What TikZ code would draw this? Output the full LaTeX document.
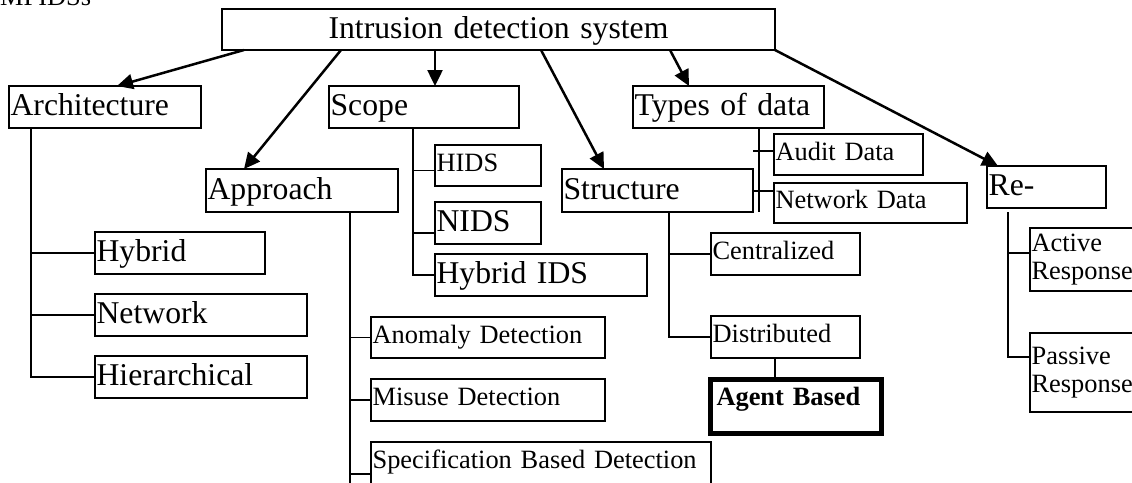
\documentclass[tikz,border=0pt]{standalone}
\usepackage{fontspec}
\setmainfont{Liberation Serif}
\usetikzlibrary{arrows.meta}
\newcommand\Lf{\fontsize{31.7}{35}\selectfont}
\newcommand\Sf{\fontsize{26.4}{28}\selectfont}
\tikzset{
  bx/.style={draw, line width=1.6pt, inner xsep=1.6pt, inner ysep=0pt, outer sep=0pt, anchor=north west, align=left},
  big/.style={font=\Lf, text height=24.4pt, text depth=7.3pt},
  sml/.style={font=\Sf, text height=18.7pt, text depth=7.7pt},
  smltwo/.style={font=\Sf},
  tl/.style={line width=1.6pt},
  arr/.style={line width=2.5pt, -{Triangle[length=16pt,width=15pt]}},
}
\newcommand\bnode[7]{%
  \pgfmathsetmacro\bw{#4-#2}\pgfmathsetmacro\bh{#5-#3}\pgfmathsetmacro\tw{#4-#2-3.2}%
  \node[bx,#6,minimum width=\bw pt,minimum height=\bh pt,text width=\tw pt] (#1) at (#2,#3) {#7};}
\begin{document}
\begin{tikzpicture}[x=1pt,y=-1pt]
\useasboundingbox (0,0) rectangle (1132,482);
\node[font=\Sf, anchor=base west, inner sep=0pt] (cap) at (0,5) {MPIDSs};
% boxes
\bnode{ids}{222}{9}{775}{50}{big,align=center}{Intrusion detection system}
\bnode{arch}{9}{86}{201}{128}{big}{Architecture}
\bnode{scope}{329}{86}{519}{128}{big}{Scope}
\bnode{types}{633}{86}{824}{128}{big}{Types of data}
\bnode{app}{206}{169}{398}{212}{big}{Approach}
\bnode{struct}{562}{169}{753}{212}{big}{Structure}
\bnode{re}{987}{166}{1106}{208}{big}{Re-}
\bnode{hyb}{95}{232}{265}{274}{big}{Hybrid}
\bnode{netw}{95}{294}{307}{336}{big}{Network}
\bnode{hier}{95}{356}{307}{398}{big}{Hierarchical}
\bnode{hids}{435}{145}{541}{186}{sml}{HIDS}
\bnode{nids}{435}{202}{541}{244}{big}{NIDS}
\bnode{hids2}{435}{254}{647}{296}{big}{Hybrid IDS}
\bnode{audit}{774}{134}{923}{175}{sml}{Audit Data}
\bnode{netd}{774}{183}{967}{223}{sml}{Network Data}
\bnode{cent}{711}{233}{860}{275}{sml}{Centralized}
\bnode{dist}{711}{316}{860}{358}{sml}{Distributed}
\bnode{anom}{371}{317}{605}{358}{sml}{Anomaly Detection}
\bnode{mis}{371}{379}{605}{421}{sml}{Misuse Detection}
\bnode{spec}{371}{442}{711}{484}{sml}{Specification Based Detection}
\bnode{act}{1030}{228}{1150}{291}{smltwo}{Active\\Response}
\bnode{pas}{1030}{333}{1150}{412}{smltwo}{Passive\\Response}
\node[draw, line width=5pt, inner xsep=6pt, inner ysep=0pt, outer sep=0pt, anchor=north west,
      minimum width=171pt, minimum height=54pt, text width=159pt, align=left,
      font=\Sf\bfseries, text height=12pt, text depth=14pt] (agent) at (710.5,379.5) {Agent Based};
% arrows from the root
\draw[arr] ([xshift=22pt]ids.south west) -- ([xshift=108pt]arch.north west);
\draw[arr] ([xshift=119pt]ids.south west) -- ([xshift=38pt]app.north west);
\draw[arr] ([xshift=213pt]ids.south west) -- ([xshift=106pt]scope.north west);
\draw[arr] ([xshift=319pt]ids.south west) -- ([xshift=42pt]struct.north west);
\draw[arr] ([xshift=448pt]ids.south west) -- ([xshift=56pt]types.north west);
\draw[arr] (ids.south east) -- ([xshift=11pt]re.north west);
% architecture
\path (arch.south west) ++(22,0) coordinate (ax);
\draw[tl] (ax) |- (hier.west);
\draw[tl] (ax |- hyb.west) -- (hyb.west);
\draw[tl] (ax |- netw.west) -- (netw.west);
% approach
\path (app.south west) ++(144,0) coordinate (px);
\path (px) ++(0,280) coordinate (pend);
\draw[tl] (px) -- (pend);
\draw[tl] (px |- anom.west) -- (anom.west);
\draw[tl] (px |- mis.west) -- (mis.west);
\path (spec.north west) ++(0,32) coordinate (specb);
\draw[tl] (px |- specb) -- (specb);
% scope
\path (scope.south west) ++(84,0) coordinate (sx);
\path ([yshift=-5pt]hids.west) coordinate (hidsb);
\path ([yshift=-10pt]nids.west) coordinate (nidsb);
\draw[tl] (sx) |- (hids2.west);
\draw[tl] (sx |- hidsb) -- (hidsb);
\draw[tl] (sx |- nidsb) -- (nidsb);
% structure
\path (struct.south west) ++(107,0) coordinate (stx);
\draw[tl] (stx) |- (dist.west);
\draw[tl] (stx |- cent.west) -- (cent.west);
\path (dist.south west) ++(64,0) coordinate (dx);
\draw[tl] (dx) -- (dx |- agent.north);
% types of data
\path (types.south west) ++(126,0) coordinate (tx);
\path (tx) ++(0,84) coordinate (txe);
\draw[tl] (tx) -- (txe);
\path ([yshift=3.5pt]audit.west) coordinate (ab);
\path ([yshift=12pt]netd.west) coordinate (nb);
\draw[tl] (ab -| struct.east) -- (ab);
\draw[tl] (nb -| struct.east) -- (nb);
% response
\path (re.south west) ++(21,4) coordinate (rx);
\path ([yshift=6.5pt]act.west) coordinate (acb);
\path ([yshift=15.5pt]pas.west) coordinate (pab);
\draw[tl] (rx) |- (pab);
\draw[tl] (rx |- acb) -- (acb);
\end{tikzpicture}
\end{document}
